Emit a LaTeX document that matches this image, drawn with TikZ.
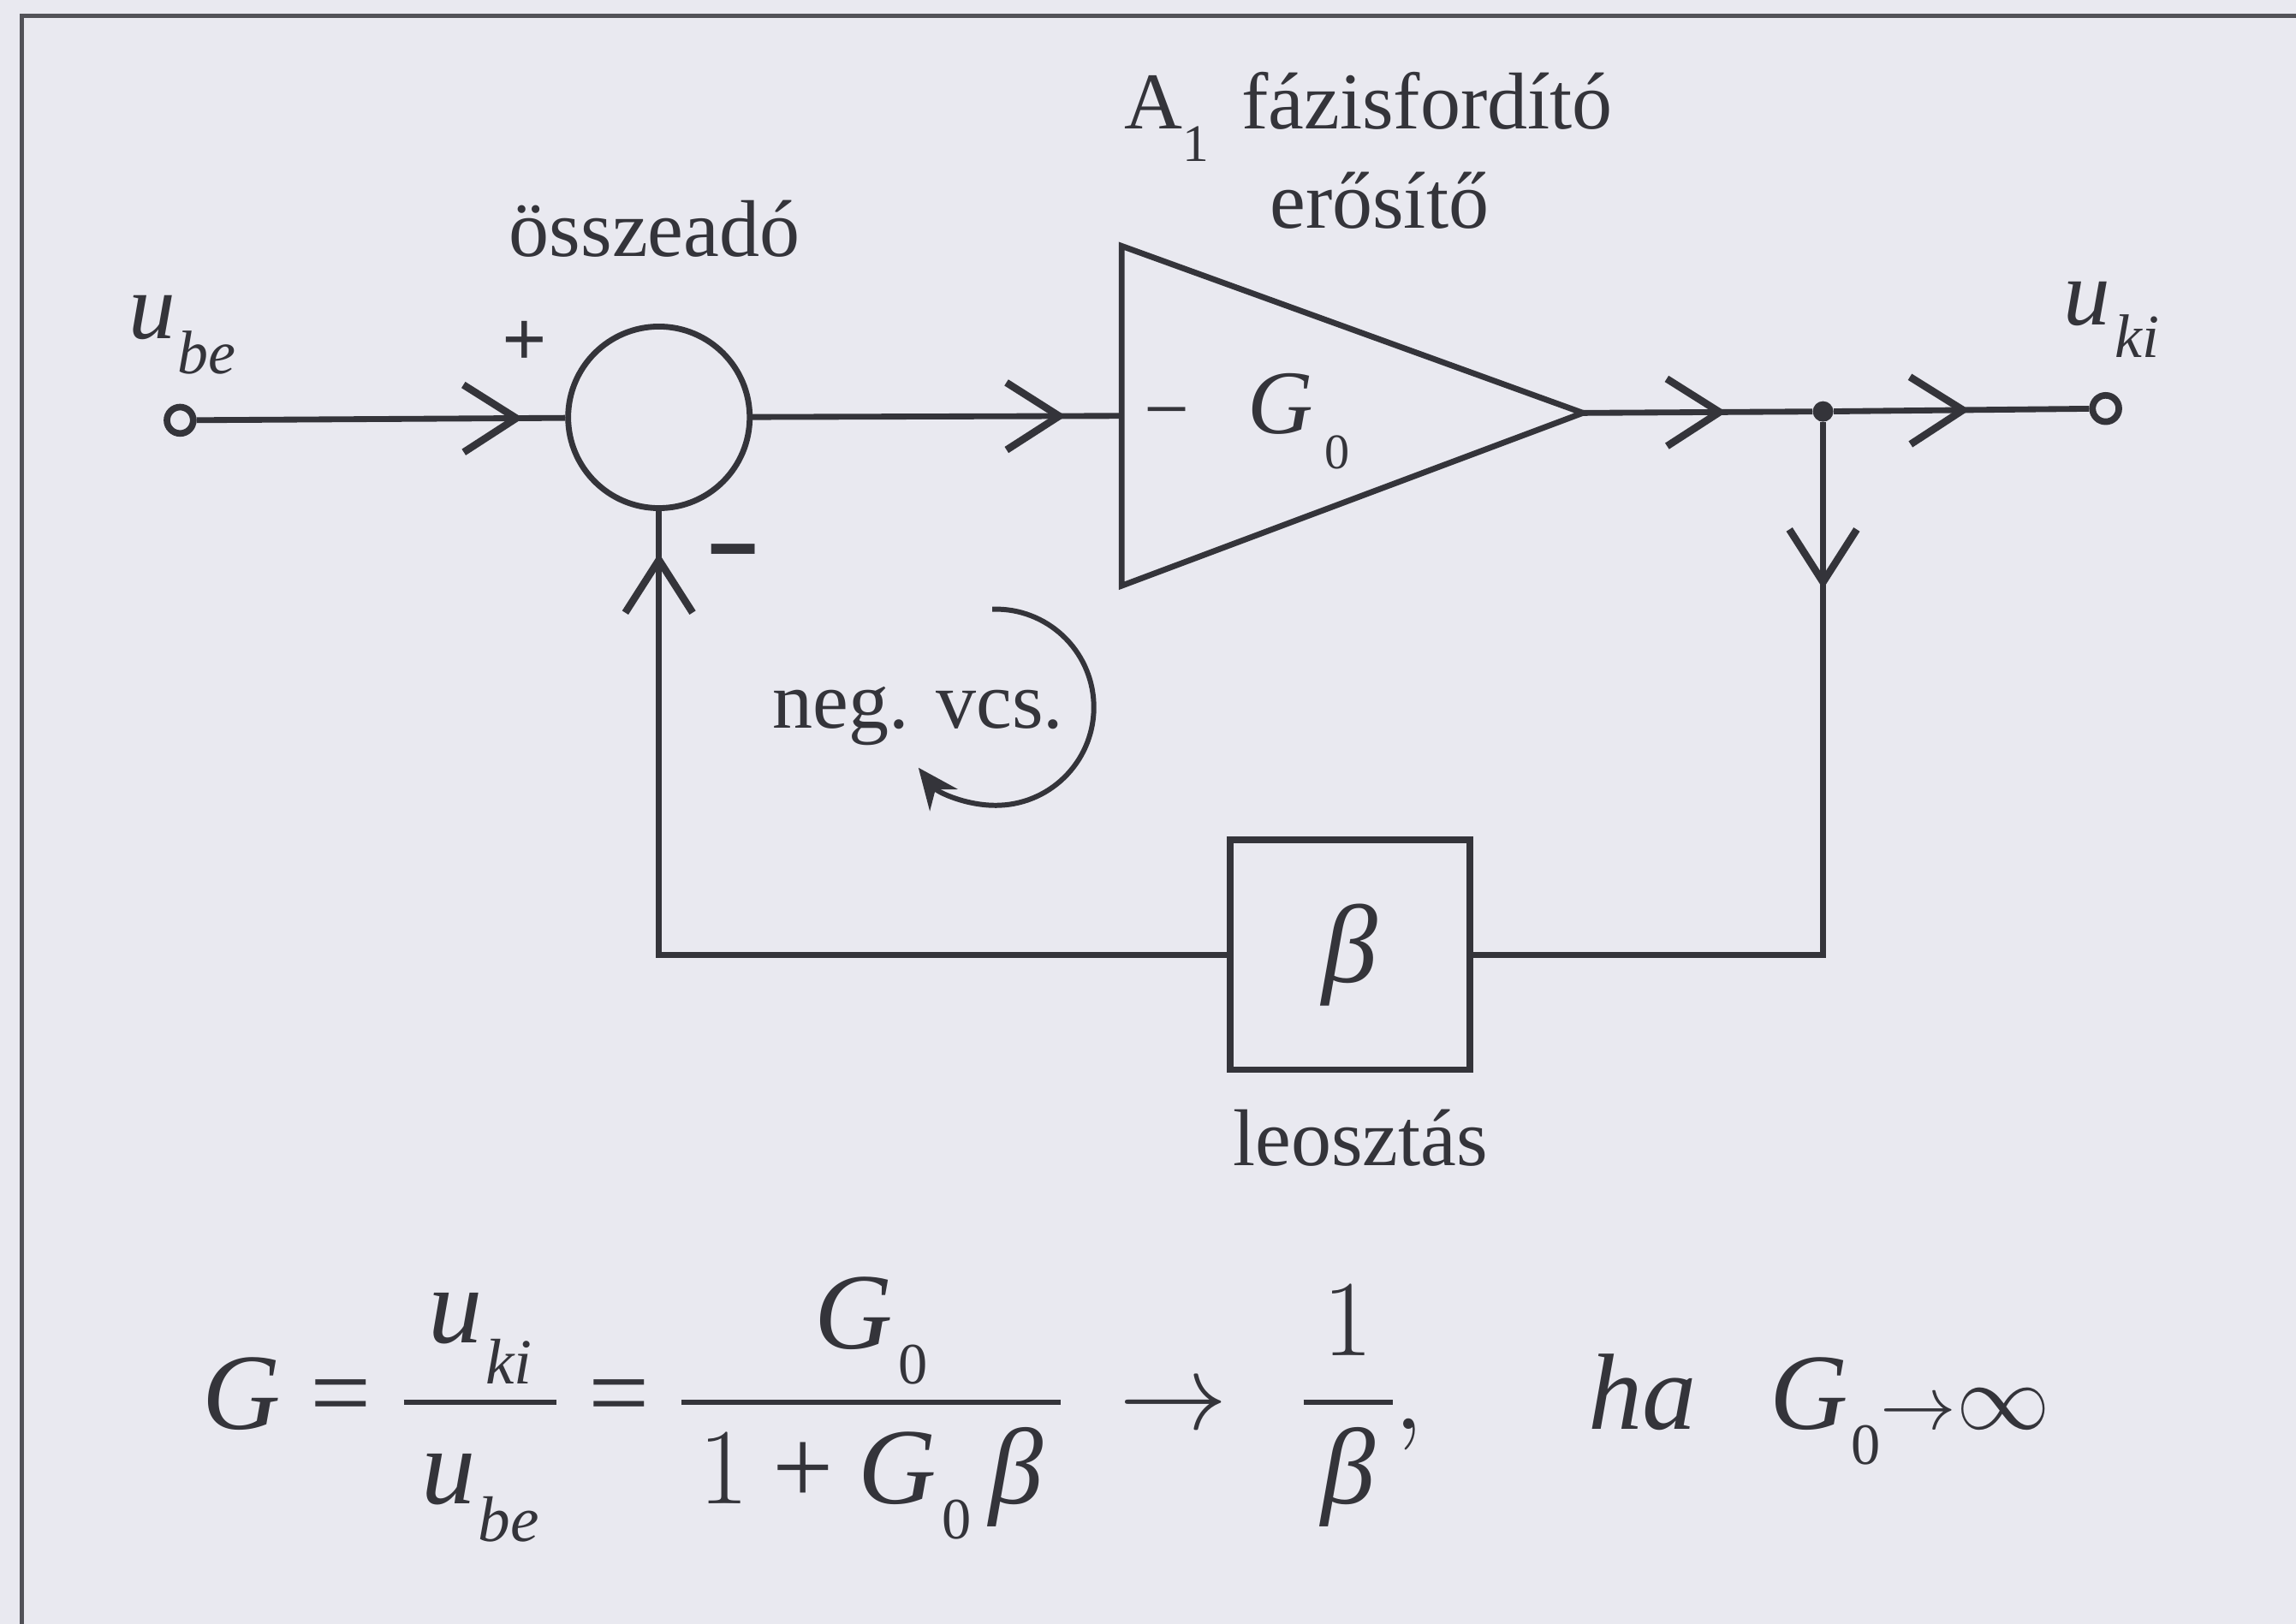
\RequirePackage{fix-cm}
\documentclass[tikz,border=0pt]{standalone}
\usepackage{amsmath}
\usepackage{fontspec}
\setmainfont{Liberation Serif}
\usetikzlibrary{arrows.meta,decorations.markings}
\definecolor{paper}{RGB}{233,233,240}
\definecolor{ink}{RGB}{52,52,58}
% base, subscript, drop, subscript size, kern
\newcommand{\ssub}[5]{#1\kern#5\raisebox{-#3}{\fontsize{#4}{#4}\selectfont #2}}
\newcommand{\lblfont}{\fontsize{55}{60}\selectfont}
\newcommand{\ffrac}[3]{\genfrac{}{}{3.5pt}{0}{\hspace{#3}#1\hspace{#3}}{\hspace{#3}#2\hspace{#3}}}
\newcommand{\teq}{\mathrel{\textup{=}}}
\newcommand{\tplus}{\mathbin{\textup{+}}}
\begin{document}
\begin{tikzpicture}[x=1pt,y=-1pt,color=ink,
  >={Straight Barb[length=36pt,width=46pt,line width=5pt]},
  conn/.style={draw=ink,line width=4pt},
  midarr/.style={postaction={decorate,decoration={markings,mark=at position #1 with {\arrow{>}}}}},
  term/.style={circle,draw=ink,line width=4.5pt,minimum size=18pt,inner sep=0pt,fill=paper},
  sumc/.style={circle,draw=ink,line width=4pt,minimum size=124pt,inner sep=0pt},
  dotn/.style={circle,fill=ink,minimum size=14pt,inner sep=0pt},
  blk/.style={rectangle,draw=ink,line width=4.5pt,minimum width=164pt,minimum height=157pt,inner sep=0pt,font=\fontsize{76}{80}\selectfont},
  lbl/.style={inner sep=0pt,font=\lblfont},
  framestyle/.style={draw=ink!85,line width=3pt}
]
\fill[paper] (0,0) rectangle (1568,1109);
\useasboundingbox (0,0) rectangle (1568,1109);

% frame
\draw[framestyle] (15,1109) -- (15,11) -- (1568,11);

% blocks
\node[term] (in) at (123,287) {};
\node[sumc] (sum) at (450,285) {};
\draw[conn,line join=miter] (766,168) coordinate (ampTL) -- (766,400) coordinate (ampBL) -- (1081,282) coordinate (amptip) -- cycle;
\coordinate (ampin) at (766,284);
\node[dotn] (split) at (1245,281) {};
\node[term] (out) at (1438,279) {};
\node[blk] (beta) at (922,652) {\textit{β}};

% connectors
\draw[conn,midarr=223pt] (in) -- (sum);
\draw[conn,midarr=214pt] (sum) -- (ampin);
\draw[conn,midarr=98pt] (amptip) -- (split);
\draw[conn,midarr=93pt] (split) -- (out);
\draw[conn,midarr=114pt] (split) -- (split |- beta) -- (beta);
\draw[conn,midarr=662pt] (beta) -- (sum |- beta) -- (sum);

% loop arrow
\coordinate (loopc) at (680,483);
\draw[conn,line width=3.5pt,-{Stealth[length=28pt,width=24pt]}] (loopc) ++(-92:67) arc[start angle=-92,end angle=142,radius=67];

% labels
\node[lbl,anchor=base] (sumlbl) at (447,175) {összeadó};
\node[lbl,anchor=base west] (amplbl1) at (768,88) {A\raisebox{-22pt}{\fontsize{36}{36}\selectfont 1}\hspace{22pt}fázisfordító};
\node[lbl,anchor=base] (amplbl2) at (942,156) {erősítő};
\node[lbl,anchor=base] (looplbl) at (627,497) {neg. vcs.};
\node[lbl,anchor=base] (betalbl) at (929,796) {leosztás};
\node[inner sep=0pt,anchor=base west,font=\fontsize{64}{64}\selectfont] (ube) at (88,231) {\ssub{\textit{u}}{\textit{be}}{24pt}{42pt}{1pt}};
\node[inner sep=0pt,anchor=base west,font=\fontsize{64}{64}\selectfont] (uki) at (1409,222) {\ssub{\textit{u}}{\textit{ki}}{22pt}{42pt}{3pt}};
\node[inner sep=0pt,anchor=base west,font=\fontsize{62}{62}\selectfont] (g0) at (852,296) {\ssub{\textit{G}}{0}{24pt}{34pt}{8pt}};
\node[inner sep=0pt,anchor=base,font=\bfseries\fontsize{54}{54}\selectfont] (plus) at (358,250) {+};
\node[inner sep=0pt,anchor=base,font=\bfseries\fontsize{58}{58}\selectfont] (minus1) at (501,408) {\scalebox{1.1}[1.7]{−}};
\node[inner sep=0pt,anchor=base,font=\fontsize{55}{55}\selectfont] (minus2) at (797,298) {−};

% formula
\node[inner sep=0pt,anchor=base west,font=\fontsize{74}{78}\selectfont] (formula) at (138,976)
 {$\displaystyle \textit{G}\teq\ffrac{\ssub{\textit{u}}{\textit{ki}}{28pt}{44pt}{2pt}}{\ssub{\textit{u}}{\textit{be}}{26pt}{44pt}{2pt}}{12pt}
   \teq\ffrac{\ssub{\textit{G}}{0}{24pt}{40pt}{4pt}}{1\tplus\ssub{\textit{G}}{0}{24pt}{40pt}{4pt}\,\textit{β}}{12pt}\hspace{18pt}\rightarrow\hspace{30pt}\ffrac{1}{\textit{β}}{12pt},\hspace{100pt}
   \textit{ha}\hspace{50pt}\ssub{\textit{G}}{0}{24pt}{40pt}{2pt}{\scriptstyle\rightarrow}\mbox{\fontsize{64}{64}\selectfont$\infty$}$};
\end{tikzpicture}
\end{document}
